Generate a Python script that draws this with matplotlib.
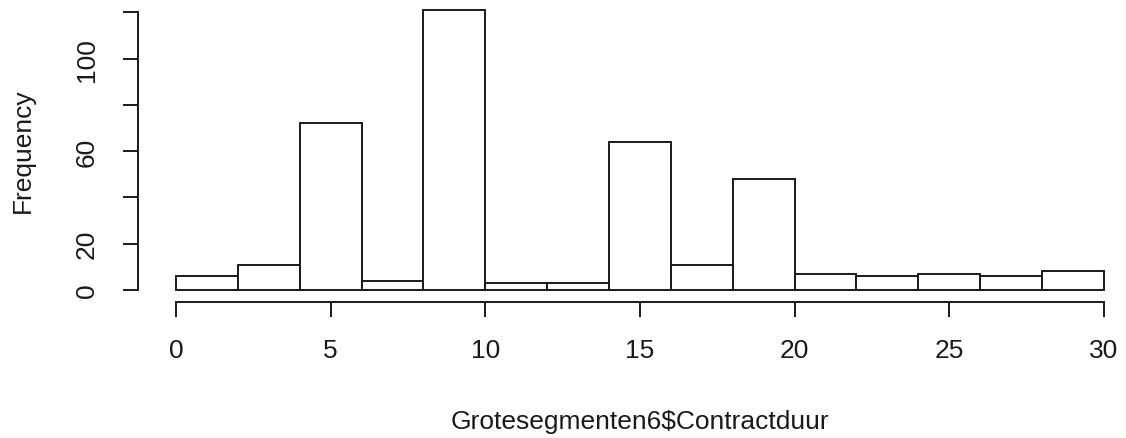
import numpy as np
import matplotlib
matplotlib.use("Agg")
import matplotlib.pyplot as plt

# Histogram of contract duration (bin edges and counts per bin)
bin_edges = [0, 2, 4, 6, 8, 10, 12, 14, 16, 18, 20, 22, 24, 26, 28, 30]
counts = [6, 11, 72, 4, 121, 3, 3, 64, 11, 48, 7, 6, 7, 6, 8]

x_ticks = [0, 5, 10, 15, 20, 25, 30]
x_tick_labels = ["0", "5", "10", "15", "20", "25", "30"]
y_ticks = [0, 20, 40, 60, 80, 100, 120]
y_tick_labels = ["0", "20", "", "60", "", "100", ""]

x_label = "Grotesegmenten6$Contractduur"
y_label = "Frequency"

plt.rcParams["font.family"] = ["Liberation Sans", "DejaVu Sans"]

W, H = 1126, 439
fig = plt.figure(figsize=(W / 100, H / 100), dpi=100)

# plot region in pixels (R-style 4% padding around the data range)
left_px, right_px, top_px, bottom_px = 138.9, 1141.0, -0.2, 302.2
ax = fig.add_axes([left_px / W, (H - bottom_px) / H,
                   (right_px - left_px) / W, (bottom_px - top_px) / H])

edges = np.asarray(bin_edges, dtype=float)
ax.bar(edges[:-1], counts, width=np.diff(edges), align="edge",
       facecolor="white", edgecolor="#1a1a1a", linewidth=1.4)

xr = edges[-1] - edges[0]
ax.set_xlim(edges[0] - 0.04 * xr, edges[-1] + 0.04 * xr)
yr = max(counts)
ax.set_ylim(-0.04 * yr, yr * 1.04)

for side in ("top", "right"):
    ax.spines[side].set_visible(False)
ax.spines["left"].set_bounds(y_ticks[0], y_ticks[-1])
ax.spines["bottom"].set_bounds(x_ticks[0], x_ticks[-1])
for side in ("left", "bottom"):
    ax.spines[side].set_linewidth(1.4)
    ax.spines[side].set_color("#1a1a1a")
ax.spines["left"].set_position(("outward", 1.0))
ax.spines["bottom"].set_position(("outward", 0.8))

ax.set_xticks(x_ticks)
ax.set_xticklabels(x_tick_labels)
ax.set_yticks(y_ticks)
ax.set_yticklabels(y_tick_labels, rotation=90, va="center")

ax.tick_params(axis="both", length=11, width=1.4, color="#1a1a1a",
               labelsize=19, labelcolor="#1a1a1a")
ax.tick_params(axis="x", pad=15)
ax.tick_params(axis="y", pad=17)

ax.set_xlabel(x_label, fontsize=19, color="#1a1a1a", va="center")
ax.xaxis.set_label_coords(0.5, -0.395)
ax.set_ylabel(y_label, fontsize=19, color="#1a1a1a", va="center")
ax.yaxis.set_label_coords(-0.1162, 0.5)

fig.savefig("out.png", dpi=100, facecolor="white")
